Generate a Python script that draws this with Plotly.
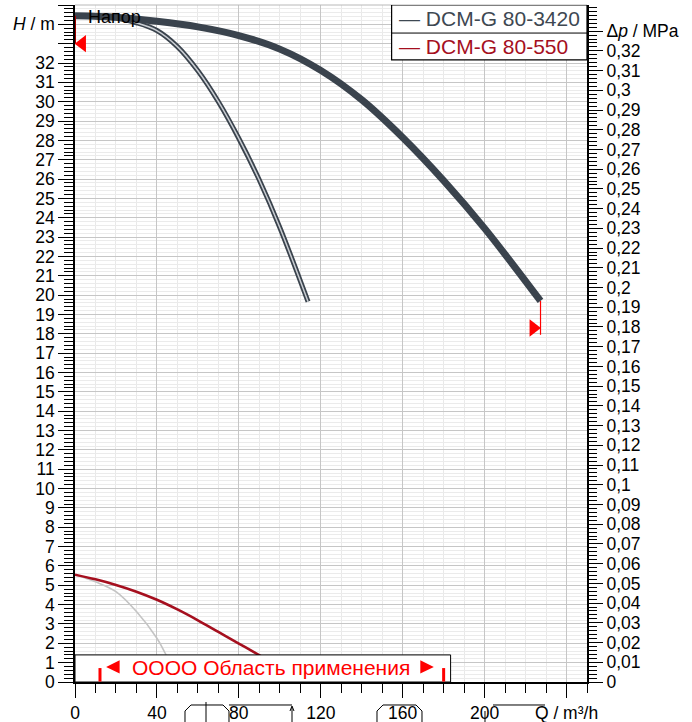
import plotly.graph_objects as go

# ---------------- data ----------------
MPA_TO_M = 101.97  # 1 MPa of head in metres of water

# DCM-G 80-3420 (max curve, thick)
q_3420_max = [0, 20, 40, 60, 80, 100, 120, 140, 160, 180, 200, 227.3]
h_3420_max = [34.45, 34.37, 34.16, 33.87, 33.42, 32.72, 31.62, 30.1, 28.15, 25.92, 23.45, 19.7]

# DCM-G 80-3420 (min curve, double line)
q_3420_min = [0, 20, 30, 40, 50, 60, 70, 80, 90, 100, 113.8]
h_3420_min = [34.45, 34.32, 34.08, 33.68, 32.85, 31.6, 30.0, 28.1, 25.95, 23.5, 19.66]

# DCM-G 80-550 (max curve, red)
q_550_max = [0, 10, 20, 30, 40, 50, 60, 70, 80, 88, 100, 110]
h_550_max = [5.55, 5.31, 5.02, 4.67, 4.25, 3.75, 3.19, 2.59, 1.99, 1.51, 0.77, 0.15]

# DCM-G 80-550 (min curve, light grey)
q_550_min = [0, 10, 20, 30, 40, 44, 48]
h_550_min = [5.55, 5.18, 4.67, 3.64, 2.26, 1.5, 0.6]

# limits markers
h_limit_top = 33.0
q_limit_right = 227.3
h_limit_right = 18.3

# application range
q_app = [12.2, 180.0]

# axes
x_tickvals = [0, 40, 80, 120, 160, 200, 240]
x_ticktext = ["0", "40", "80", "120", "160", "200", "Q / m³/h"]
y_tickvals = list(range(0, 36))
y_ticktext = [str(v) for v in range(0, 33)] + ["", "<i>H</i> / m", ""]
p_tickvals = [round(i * 0.01, 2) for i in range(0, 34)]
p_ticktext = [("0" if v == 0 else ("%g" % v).replace(".", ",")) for v in p_tickvals[:-1]] + ["Δ<i>p</i> / MPa"]

X_MAX = 250
H_MAX = 35

FONT = "Liberation Sans, Arial, sans-serif"
DARK = "#3a434d"
RED = "#a50f1e"
BRIGHT_RED = "#ff0000"

fig = go.Figure()

# grey low curve
fig.add_trace(go.Scatter(x=q_550_min, y=h_550_min, mode="lines", line=dict(color="#c4c4c4", width=1.6, shape="spline"),
                         showlegend=False, hoverinfo="skip"))
# red curve
fig.add_trace(go.Scatter(x=q_550_max, y=h_550_max, mode="lines", line=dict(color=RED, width=2.6, shape="spline"),
                         name="DCM-G 80-550", showlegend=False))
# double line curve
fig.add_trace(go.Scatter(x=q_3420_min, y=h_3420_min, mode="lines", line=dict(color=DARK, width=5, shape="spline"),
                         showlegend=False, hoverinfo="skip"))
fig.add_trace(go.Scatter(x=q_3420_min, y=h_3420_min, mode="lines", line=dict(color="#c9cdd2", width=1.5, shape="spline"),
                         showlegend=False, hoverinfo="skip"))
# thick curve
fig.add_trace(go.Scatter(x=q_3420_max, y=h_3420_max, mode="lines", line=dict(color=DARK, width=7, shape="spline"),
                         name="DCM-G 80-3420", showlegend=False))

# limit lines and triangles
fig.add_trace(go.Scatter(x=[0, 0], y=[h_limit_top, h_3420_max[0]], mode="lines",
                         line=dict(color="#a00000", width=2), showlegend=False, hoverinfo="skip"))
fig.add_trace(go.Scatter(x=[q_limit_right, q_limit_right], y=[h_3420_max[-1], 17.95], mode="lines",
                         line=dict(color=BRIGHT_RED, width=1.2), showlegend=False, hoverinfo="skip"))
fig.add_trace(go.Scatter(x=[3.5], y=[h_limit_top], mode="markers",
                         marker=dict(symbol="triangle-left", size=15, color=BRIGHT_RED, line=dict(width=0)),
                         showlegend=False, hoverinfo="skip"))
fig.add_trace(go.Scatter(x=[q_limit_right - 3.5], y=[h_limit_right], mode="markers",
                         marker=dict(symbol="triangle-right", size=15, color=BRIGHT_RED, line=dict(width=0)),
                         showlegend=False, hoverinfo="skip"))

# secondary axis (pressure) dummy trace
fig.add_trace(go.Scatter(x=[0], y=[0], yaxis="y2", mode="markers", marker=dict(opacity=0),
                         showlegend=False, hoverinfo="skip"))

shapes = []
annotations = []

# top border
shapes.append(dict(type="line", xref="paper", yref="paper", x0=0, x1=1, y0=1, y1=1,
                   line=dict(color="#b8b8b8", width=1), layer="above"))

# application range box
BOX_TOP = 1.4
BOX_RIGHT = 183.4
shapes.append(dict(type="rect", xref="x", yref="y", x0=0, x1=BOX_RIGHT, y0=0, y1=BOX_TOP,
                   fillcolor="white", line=dict(color="black", width=1), layer="above"))
for qa in q_app:
    shapes.append(dict(type="line", xref="x", yref="y", x0=qa, x1=qa, y0=0.02, y1=0.72,
                       line=dict(color=BRIGHT_RED, width=3), layer="above"))
# small triangles in the box
tri_h = 0.34
tri_w = 6.6
yc = 0.78
lx = 15.2
shapes.append(dict(type="path", xref="x", yref="y",
                   path=f"M {lx},{yc} L {lx+tri_w},{yc+tri_h} L {lx+tri_w},{yc-tri_h} Z",
                   fillcolor=BRIGHT_RED, line=dict(width=0), layer="above"))
rx = 175.2
shapes.append(dict(type="path", xref="x", yref="y",
                   path=f"M {rx},{yc} L {rx-tri_w},{yc+tri_h} L {rx-tri_w},{yc-tri_h} Z",
                   fillcolor=BRIGHT_RED, line=dict(width=0), layer="above"))
annotations.append(dict(x=95.6, y=0.74, xref="x", yref="y", text="OOOO Область применения",
                        showarrow=False, font=dict(family=FONT, size=21, color=BRIGHT_RED),
                        xanchor="center", yanchor="middle"))

# legend box
LEG_X0 = 154.6
LEG_Y0 = 32.16
LEG_MID = 33.55
shapes.append(dict(type="rect", xref="x", yref="y", x0=LEG_X0, x1=X_MAX, y0=LEG_Y0, y1=H_MAX,
                   fillcolor="white", line=dict(color="black", width=1.2), layer="above"))
shapes.append(dict(type="line", xref="x", yref="y", x0=LEG_X0, x1=X_MAX, y0=LEG_MID, y1=LEG_MID,
                   line=dict(color="black", width=1), layer="above"))
annotations.append(dict(x=LEG_X0 + 2.5, y=34.28, xref="x", yref="y", text="— DCM-G 80-3420",
                        showarrow=False, font=dict(family=FONT, size=21, color="#3e4852"),
                        xanchor="left", yanchor="middle"))
annotations.append(dict(x=LEG_X0 + 2.5, y=32.85, xref="x", yref="y", text="— DCM-G 80-550",
                        showarrow=False, font=dict(family=FONT, size=21, color=RED),
                        xanchor="left", yanchor="middle"))

# curve label
annotations.append(dict(x=5.6, y=34.4, xref="x", yref="y", text="Напор", showarrow=False,
                        font=dict(family=FONT, size=18, color="black"), xanchor="left", yanchor="middle"))

# decorative outlines below the axis (clipped artefacts of the original)
def px(xp, yp):
    return ((xp - 75) / 512.0, (682 - yp) / 677.0)

def path_px(points):
    parts = []
    for i, (a, b) in enumerate(points):
        xx, yy = px(a, b)
        parts.append(("M" if i == 0 else "L") + f" {xx:.5f},{yy:.5f}")
    return " ".join(parts)

ghost = [
    [(185, 723), (185, 711), (191, 705), (223, 705), (229, 711), (229, 723)],
    [(206, 702), (206, 723)],
    [(229, 705), (292, 705)],
    [(292, 707), (292, 723)],
    [(377, 723), (377, 711), (383, 705), (416, 705), (422, 711), (422, 723)],
    [(493, 705), (545, 705)],
    [(485, 711), (485, 723)],
]
for g in ghost:
    shapes.append(dict(type="path", xref="paper", yref="paper", path=path_px(g),
                       line=dict(color="black", width=1), layer="above"))
# tiny arrow tip
shapes.append(dict(type="path", xref="paper", yref="paper",
                   path=path_px([(290, 711), (292, 706), (294, 711)]),
                   line=dict(color="black", width=1), layer="above"))

fig.update_layout(
    width=692, height=722,
    margin=dict(l=75, r=105, t=5, b=40, pad=0, autoexpand=False),
    paper_bgcolor="white", plot_bgcolor="white",
    font=dict(family=FONT, size=17, color="black"),
    showlegend=False,
    shapes=shapes,
    annotations=annotations,
    xaxis=dict(
        range=[0, X_MAX], tickmode="array", tickvals=x_tickvals, ticktext=x_ticktext,
        ticks="outside", ticklen=14, tickwidth=1, tickcolor="black", automargin=False,
        showline=True, linecolor="black", linewidth=1.5,
        showgrid=True, gridcolor="#c6c6c6", gridwidth=1, zeroline=False,
        tickfont=dict(family=FONT, size=17.5, color="black"), ticklabelstandoff=0,
        minor=dict(dtick=10, tick0=0, ticks="outside", ticklen=9, tickcolor="black",
                   showgrid=True, gridcolor="#e9e9e9", gridwidth=1),
    ),
    yaxis=dict(
        range=[0, H_MAX], tickmode="array", tickvals=y_tickvals, ticktext=y_ticktext,
        ticks="outside", ticklen=15, tickwidth=1, tickcolor="black", automargin=False,
        showline=True, linecolor="black", linewidth=1.5,
        showgrid=True, gridcolor="#c6c6c6", gridwidth=1, zeroline=False,
        tickfont=dict(family=FONT, size=17.5, color="black"),
        minor=dict(dtick=0.2, tick0=0, ticks="outside", ticklen=9, tickcolor="black",
                   showgrid=True, gridcolor="#ebebeb", gridwidth=1),
    ),
    yaxis2=dict(
        overlaying="y", side="right", range=[0, H_MAX / MPA_TO_M],
        tickmode="array", tickvals=p_tickvals, ticktext=p_ticktext, automargin=False,
        ticks="outside", ticklen=14, tickwidth=1, tickcolor="black",
        showline=True, linecolor="black", linewidth=2,
        showgrid=False, zeroline=False,
        tickfont=dict(family=FONT, size=17.5, color="black"),
        minor=dict(dtick=0.002, tick0=0, ticks="outside", ticklen=8, tickcolor="black", showgrid=False),
    ),
)

fig.write_html("out.html", config={"displayModeBar": False},
               post_script="document.body.style.margin='0px';")
